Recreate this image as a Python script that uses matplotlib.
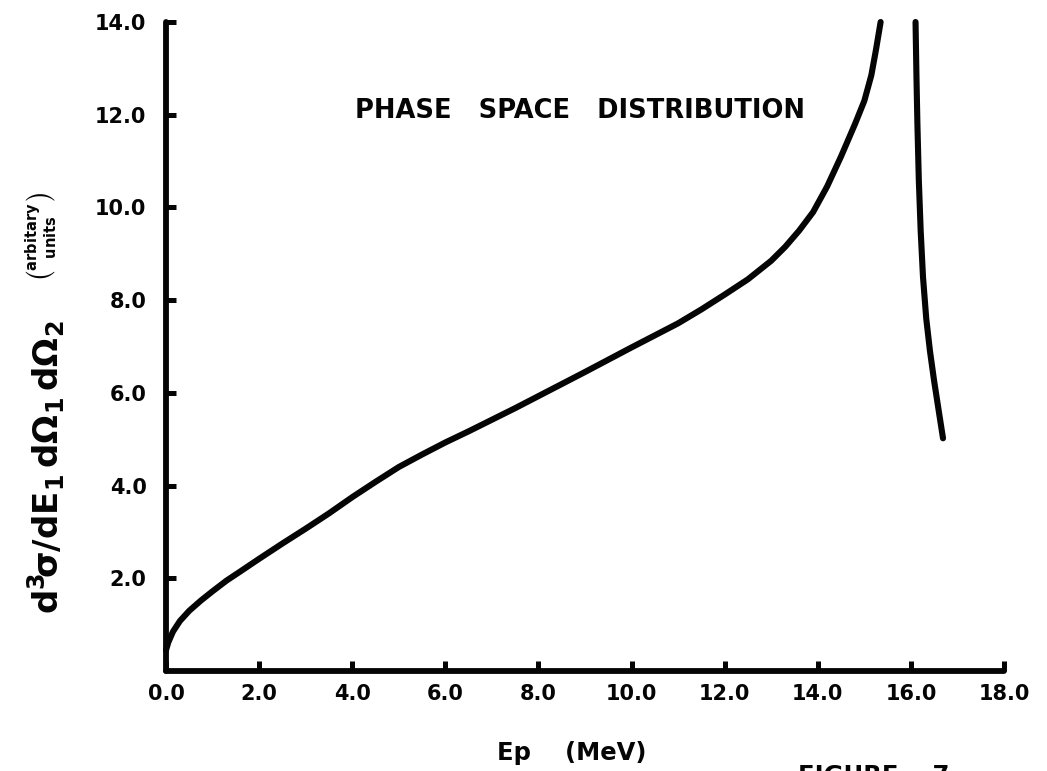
import matplotlib
matplotlib.use("Agg")
import matplotlib.pyplot as plt
from matplotlib import font_manager

# Phase-space distribution (arbitrary units) versus proton energy Ep (MeV)
ep_low = [0.0, 0.05, 0.15, 0.3, 0.5, 0.75, 1.0, 1.3, 1.6, 2.0, 2.5, 3.0, 3.5,
          4.0, 4.5, 5.0, 5.5, 6.0, 6.5, 7.0, 7.5, 8.0, 9.0, 10.0, 11.0, 11.5,
          12.0, 12.5, 13.0, 13.3, 13.6, 13.9, 14.2, 14.5, 14.8, 15.0, 15.15,
          15.25, 15.35]
dist_low = [0.45, 0.62, 0.85, 1.08, 1.3, 1.52, 1.72, 1.95, 2.15, 2.42, 2.75,
            3.07, 3.4, 3.75, 4.08, 4.4, 4.67, 4.93, 5.17, 5.42, 5.67, 5.93,
            6.45, 6.98, 7.5, 7.8, 8.12, 8.45, 8.85, 9.15, 9.5, 9.9, 10.45,
            11.1, 11.8, 12.3, 12.85, 13.4, 14.0]

ep_high = [16.10, 16.12, 16.14, 16.17, 16.21, 16.26, 16.33, 16.41, 16.50,
           16.60, 16.69]
dist_high = [14.0, 12.8, 11.8, 10.6, 9.5, 8.5, 7.6, 6.9, 6.25, 5.6, 5.02]

x_ticks = [0.0, 2.0, 4.0, 6.0, 8.0, 10.0, 12.0, 14.0, 16.0, 18.0]
x_tick_labels = ["0.0", "2.0", "4.0", "6.0", "8.0", "10.0", "12.0", "14.0", "16.0", "18.0"]
y_ticks = [2.0, 4.0, 6.0, 8.0, 10.0, 12.0, 14.0]
y_tick_labels = ["2.0", "4.0", "6.0", "8.0", "10.0", "12.0", "14.0"]

title_text = "PHASE   SPACE   DISTRIBUTION"
xlabel_text = "Ep    (MeV)"
figure_text = "FIGURE    7"
ylabel_math = r"$d^{3}\!\sigma/dE_{1}\,d\Omega_{1}\,d\Omega_{2}$"
units_math = r"$\genfrac{(}{)}{0}{}{\mathrm{arbitary}}{\mathrm{units}}$"

# prefer a narrow bold face for the lettering when one is installed
installed = {f.name for f in font_manager.fontManager.ttflist}
narrow = "Liberation Sans Narrow" in installed
if narrow:
    face = ["Liberation Sans Narrow", "DejaVu Sans"]
    s_tick, s_title, s_label = 21, 23, 22
else:
    face = ["DejaVu Sans"]
    s_tick, s_title, s_label = 15, 18.5, 17.5

plt.rcParams["font.family"] = face
plt.rcParams["font.weight"] = "bold"
plt.rcParams["mathtext.fontset"] = "dejavusans"
plt.rcParams["mathtext.default"] = "bf"

W, H = 1047, 771
fig = plt.figure(figsize=(W / 100, H / 100), dpi=100)
fig.patch.set_facecolor("white")

# axes box in pixel terms: x 0..18 -> 166..1004, y 0..14 -> 671..22
left, right, bottom_px, top_px = 166, 1004, 671, 22
ax = fig.add_axes([left / W, 1 - bottom_px / H, (right - left) / W,
                   (bottom_px - top_px) / H])
ax.set_xlim(0, 18)
ax.set_ylim(0, 14)

ink = "#050505"
for xs, ys in ((ep_low, dist_low), (ep_high, dist_high)):
    ax.plot(xs, ys, color=ink, lw=4.4, solid_capstyle="round",
            solid_joinstyle="round", clip_on=False, zorder=3)

for side in ("top", "right"):
    ax.spines[side].set_visible(False)
for side in ("left", "bottom"):
    ax.spines[side].set_linewidth(4.2)
    ax.spines[side].set_color(ink)
    ax.spines[side].set_capstyle("round")

ax.set_xticks(x_ticks)
ax.set_xticklabels(x_tick_labels)
ax.set_yticks(y_ticks)
ax.set_yticklabels(y_tick_labels)
ax.tick_params(axis="both", direction="in", length=7, width=3.6, color=ink,
               labelcolor=ink)
ax.tick_params(axis="x", pad=9, labelsize=s_tick)
ax.tick_params(axis="y", pad=14, labelsize=s_tick)
for lab in ax.get_xticklabels() + ax.get_yticklabels():
    lab.set_fontweight("bold")

# title inside the plotting area
fig.text(355 / W, 1 - 118 / H, title_text, ha="left", va="baseline",
         fontsize=s_title, fontweight="bold", color=ink)

# x axis caption and figure number
fig.text(572 / W, 1 - 760 / H, xlabel_text, ha="center", va="baseline",
         fontsize=s_label, fontweight="bold", color=ink)
fig.text(798 / W, 1 - 764 / H, figure_text, ha="left", va="top",
         fontsize=s_label, fontweight="bold", color=ink)

# y axis caption: differential cross section and its units
fig.text(46 / W, 1 - 467 / H, ylabel_math, rotation=90, ha="center",
         va="center", fontsize=24.5, color=ink)
fig.text(42 / W, 1 - 236 / H, units_math, rotation=90, ha="center",
         va="center", fontsize=15, color=ink)

fig.savefig("out.png", dpi=100, facecolor="white")
